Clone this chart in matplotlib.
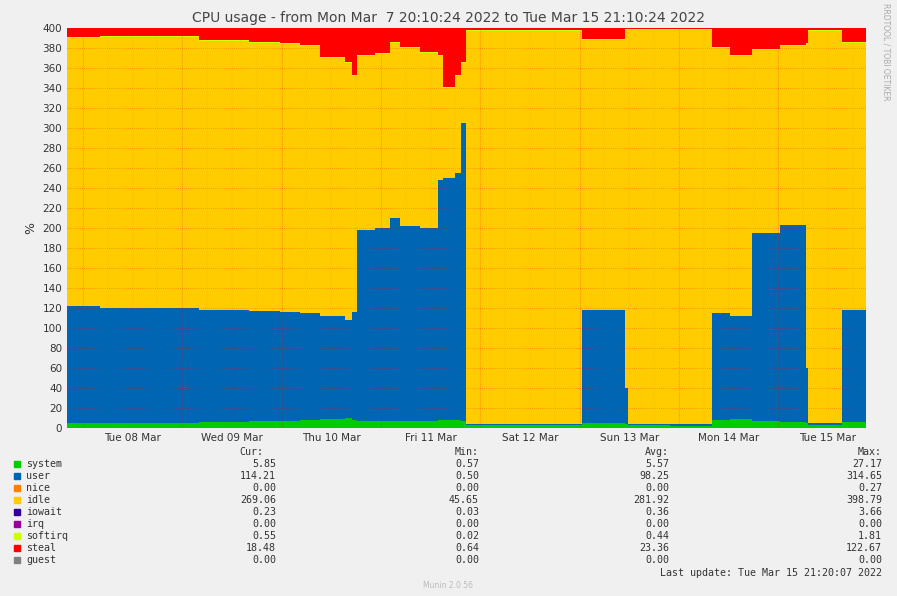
import matplotlib
matplotlib.use("Agg")
import matplotlib.pyplot as plt
import numpy as np

hours = [0,8,20,32,44,51.5,56.3,61.1,67.1,68.8,70,74.4,78,80.4,85.3,89.6,90.8,93.7,95.2,96.4,104.6,116.7,124.4,128.7,134.8,135.5,145.7,155.8,160.1,165.5,172.2,178.5,179,187.2,193]
system = [5,5,5,6,7,7,8,9,10,8,7,7,7,7,7,8,8,8,7,3,3,3,5,5,4,3,2,8,9,7,6,5,3,6,6]
user = [117,115,115,112,110,109,107,103,98,108,191,193,203,195,193,240,242,247,298,1,1,1,113,113,36,1,2,107,103,188,197,55,2,112,112]
idle = [268,271,271,269,268,268,267,258,257,236,174,174,175,178,175,124,90,97,60,393,393,393,270,270,358,394,394,265,260,183,179,324,392,267,270]
iowait = [0.3]*35
softirq = [0.5]*35
steal = [10,9,9,13,15,16,18,30,35,48,28,26,15,20,25,28,60,48,35,3,3,3,12,12,2,2,2,20,28,22,18,16,3,15,12]

names = ["system","user","nice","idle","iowait","irq","softirq","steal","guest"]
colors = ["#00CC00","#0066B3","#FF8000","#FFCC00","#330099","#990099","#CCFF00","#FF0000","#808080"]
cur = ["5.85","114.21","0.00","269.06","0.23","0.00","0.55","18.48","0.00"]
mins = ["0.57","0.50","0.00","45.65","0.03","0.00","0.02","0.64","0.00"]
avgs = ["5.57","98.25","0.00","281.92","0.36","0.00","0.44","23.36","0.00"]
maxs = ["27.17","314.65","0.27","398.79","3.66","0.00","1.81","122.67","0.00"]
day_labels = ["Tue 08 Mar","Wed 09 Mar","Thu 10 Mar","Fri 11 Mar","Sat 12 Mar","Sun 13 Mar","Mon 14 Mar","Tue 15 Mar"]

zero = [0]*35
series = [system,user,zero,idle,iowait,zero,softirq,steal,zero]

fig = plt.figure(figsize=(8.97,5.96),dpi=100,facecolor="#F0F0F0")
ax = fig.add_axes([67/897,1-428/596,799/897,400/596])
ax.set_facecolor("#FFFFFF")
h = np.array(hours)
base = np.zeros(len(h))
for s,c in zip(series,colors):
    top = base + np.array(s)
    ax.fill_between(h,base,top,step="post",color=c,linewidth=0)
    base = top
ax.set_xlim(0,193)
ax.set_ylim(0,400)
ax.set_yticks(range(0,401,20))
ax.set_yticks(range(0,401,10),minor=True)
ax.set_xticks([15.83+24*i for i in range(8)])
ax.set_xticklabels(day_labels)
ax.set_xticks([3.83+6*i for i in range(32)],minor=True)
ax.tick_params(labelsize=7.5,colors="#333333",length=0,which="both")
for y in range(0,401,20):
    ax.axhline(y,color="#FF0000",lw=0.5,ls=(0,(1,2)),alpha=0.5,zorder=3)
for i in range(9):
    ax.axvline(3.83+24*i,color="#FF0000",lw=0.5,ls=(0,(1,2)),alpha=0.5,zorder=3)
for i in range(33):
    ax.axvline(3.83+6*i,color="#FF0000",lw=0.3,ls=(0,(1,3)),alpha=0.3,zorder=3)
for sp in ax.spines.values():
    sp.set_visible(False)
ax.set_ylabel("%",fontsize=9,color="#333333")
fig.text(0.5,1-18/596,"CPU usage - from Mon Mar  7 20:10:24 2022 to Tue Mar 15 21:10:24 2022",ha="center",va="center",fontsize=10,color="#444444")
fig.text(886/897,1-52/596,"RRDTOOL / TOBI OETIKER",rotation=270,ha="center",va="center",fontsize=5.5,color="#AAAAAA")

mono = "DejaVu Sans Mono"
def fy(y): return 1-y/596
fs = 7.2
for x,t in [(263,"Cur:"),(479,"Min:"),(669,"Avg:"),(882,"Max:")]:
    fig.text(x/897,fy(452),t,ha="right",va="center",fontsize=fs,family=mono,color="#333333")
for i,n in enumerate(names):
    y = 464+12*i
    fig.patches.append(plt.Rectangle((14/897,fy(y)-3/596),6/897,6/596,transform=fig.transFigure,color=colors[i],figure=fig))
    fig.text(26/897,fy(y),n,ha="left",va="center",fontsize=fs,family=mono,color="#333333")
    for x,v in [(276,cur[i]),(479,mins[i]),(669,avgs[i]),(882,maxs[i])]:
        fig.text(x/897,fy(y),v,ha="right",va="center",fontsize=fs,family=mono,color="#333333")
fig.text(882/897,fy(573),"Last update: Tue Mar 15 21:20:07 2022",ha="right",va="center",fontsize=fs,family=mono,color="#333333")
fig.text(448/897,fy(585),"Munin 2.0.56",ha="center",va="center",fontsize=5.5,color="#BBBBBB")
fig.savefig("out.png",dpi=100,facecolor=fig.get_facecolor())
